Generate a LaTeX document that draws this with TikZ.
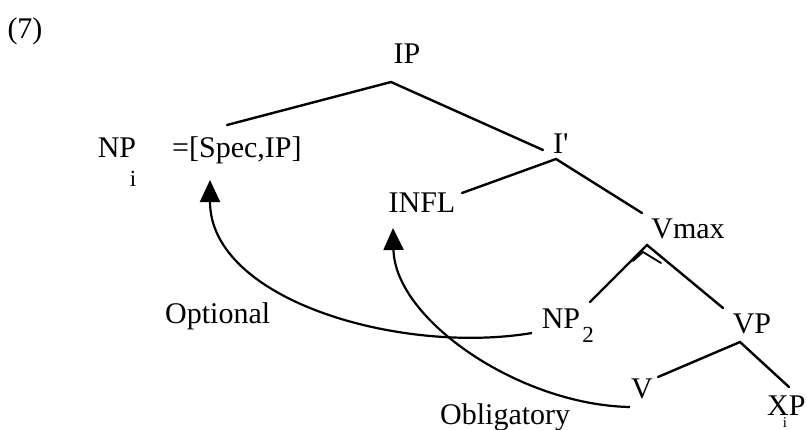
\documentclass[tikz,border=0pt]{standalone}
\usepackage{fontspec}
\setmainfont{Liberation Serif}
\usetikzlibrary{arrows.meta}
\begin{document}
\begin{tikzpicture}[x=1pt,y=-1pt,
  lbl/.style={font=\fontsize{30}{34}\selectfont, inner sep=0pt, anchor=base},
  sublbl/.style={font=\fontsize{23}{26}\selectfont, inner sep=0pt, anchor=base},
  tinylbl/.style={font=\fontsize{15}{17}\selectfont, inner sep=0pt, anchor=base},
  branch/.style={line width=2.4pt, line cap=round},
  movearrow/.style={line width=2.2pt, -{Triangle[length=22pt,width=20pt]}}]
\useasboundingbox (0,0) rectangle (807,429);
% labels
\node[lbl] (num) at (25,38) {(7)};
\node[lbl] (ip) at (407,63) {IP};
\node[lbl] (np1) at (117,157) {NP};
\node[sublbl] (np1i) at (133,186) {i};
\node[lbl, anchor=base west] (spec) at (172,157) {=[Spec,IP]};
\node[lbl, anchor=base west] (ibar) at (553,153) {I\textquotesingle};
\node[lbl] (infl) at (422,212) {INFL};
\node[lbl] (vmax) at (688,238) {Vmax};
\node[lbl] (np2) at (561,328) {NP};
\node[sublbl] (np2s) at (588,342) {2};
\node[lbl] (vp) at (752,333) {VP};
\node[lbl] (v) at (642,398) {V};
\node[lbl, anchor=base west] (xp) at (767,415) {XP};
\node[tinylbl] (xpi) at (785,427) {i};
\node[lbl, anchor=base west] (opt) at (165,323) {Optional};
\node[lbl, anchor=base west] (obl) at (440,424) {Obligatory};
% branch points
\coordinate (ipA) at (391,82);
\coordinate (specT) at (227,125);
\coordinate (ibarL) at (543,150);
\coordinate (ibarA) at (556,159);
\coordinate (inflT) at (462,193);
\coordinate (vmaxL) at (642,213);
\coordinate (vmaxA) at (647,245);
\coordinate (np2T) at (590,302);
\coordinate (vpT) at (723,308);
\coordinate (vpA) at (740,342);
\coordinate (vT) at (658,377);
\coordinate (xpT) at (789,387);
\draw[branch] (specT) -- (ipA) -- (ibarL);
\draw[branch] (inflT) -- (ibarA) -- (vmaxL);
\draw[branch] (np2T) -- (vmaxA) -- (vpT);
\draw[branch] (vT) -- (vpA) -- (xpT);
\draw[line width=1.8pt, line cap=round] (633,261) -- (643,252) -- (661,263);
% movement arrows
\coordinate (np2W) at (532,333);
\coordinate (specB) at (210,180);
\coordinate (vW) at (630,407);
\coordinate (inflB) at (393,228);
\draw[movearrow] (np2W) .. controls (400,355) and (210,300) .. (specB);
\draw[movearrow] (vW) .. controls (520,405) and (395,320) .. (inflB);
\end{tikzpicture}
\end{document}
